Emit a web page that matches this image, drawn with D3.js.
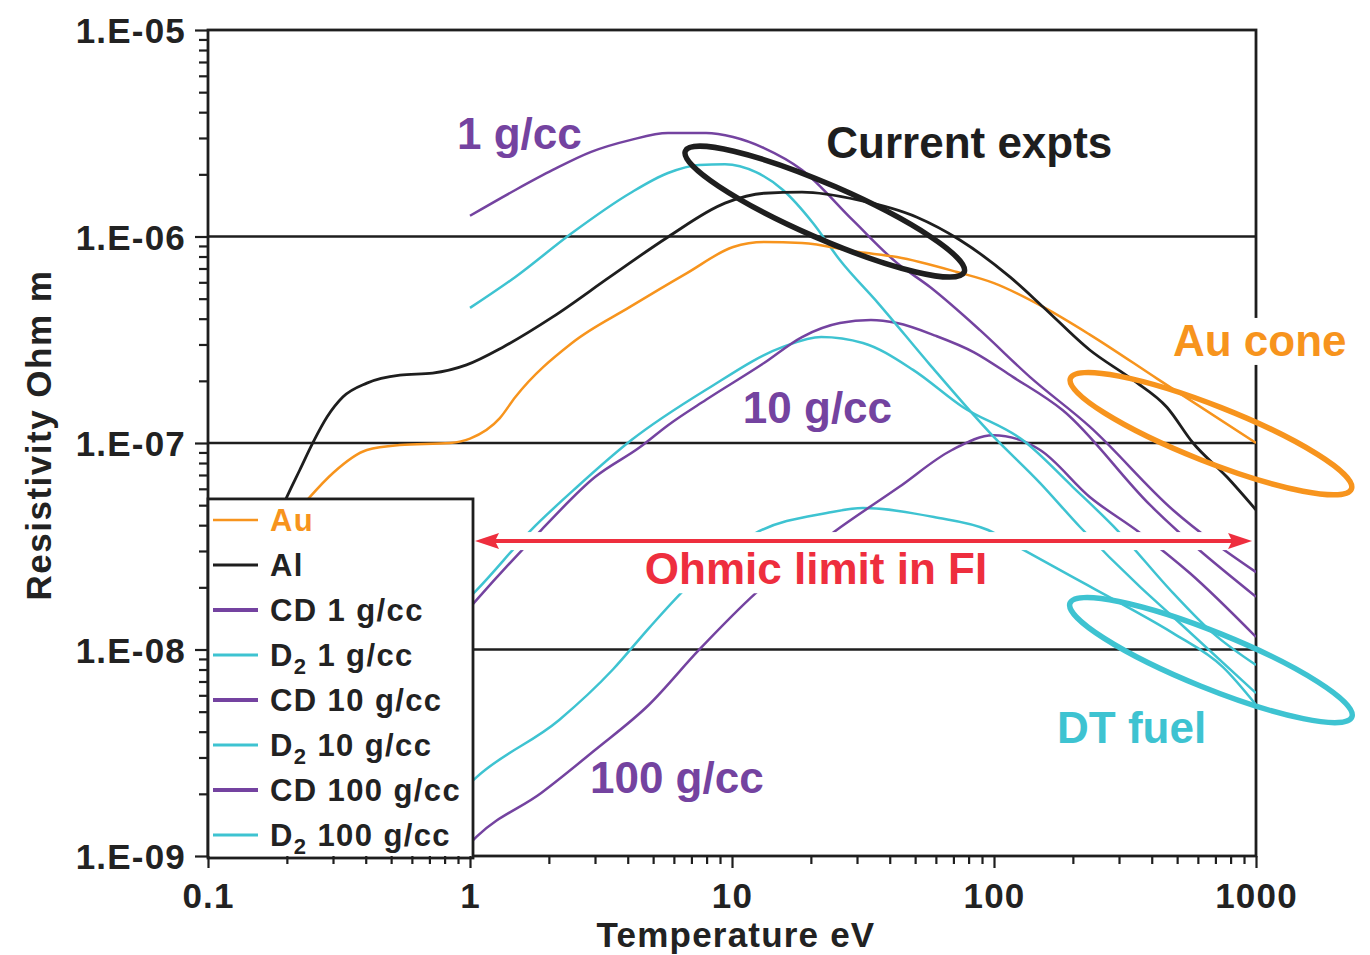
<!DOCTYPE html>
<html><head><meta charset="utf-8">
<script src="https://cdn.jsdelivr.net/npm/d3@7"></script>
<style>
body{margin:0;background:#fff;}
svg{display:block;font-family:"Liberation Sans",Arial,sans-serif;font-weight:bold;}
</style></head><body>
<svg id="chart" width="1370" height="955"></svg>
<script>
// ---------------- data (Temperature eV, Resistivity Ohm m) ----------------
const auT   = [0.2, 0.245, 0.30, 0.404, 0.54, 0.84, 1.0, 1.30, 1.49, 2.45, 4.08, 6.73, 10.1, 13.25, 18.5, 30.5, 42.6, 72.3, 100, 154, 232, 419, 1000];
const auRho = [4.0e-8, 5.48e-8, 7.16e-8, 9.25e-8, 9.77e-8, 1.0e-7, 1.05e-7, 1.32e-7, 1.67e-7, 3.05e-7, 4.56e-7, 6.65e-7, 8.89e-7, 9.40e-7, 9.30e-7, 8.41e-7, 7.96e-7, 6.73e-7, 5.95e-7, 4.56e-7, 3.35e-7, 2.05e-7, 1.0e-7];

const alT   = [0.18, 0.2, 0.224, 0.252, 0.285, 0.327, 0.404, 0.54, 0.72, 0.97, 1.34, 2.07, 3.42, 5.7, 9.4, 13.25, 18.5, 30.5, 50.8, 74.1, 115, 154, 232, 339, 457, 575, 775, 1000];
const alRho = [4.0e-8, 5.48e-8, 7.40e-8, 1.01e-7, 1.34e-7, 1.67e-7, 1.95e-7, 2.13e-7, 2.18e-7, 2.39e-7, 2.92e-7, 4.08e-7, 6.37e-7, 9.95e-7, 1.45e-6, 1.62e-6, 1.64e-6, 1.50e-6, 1.24e-6, 9.62e-7, 6.37e-7, 4.56e-7, 2.82e-7, 2.02e-7, 1.49e-7, 1.0e-7, 6.84e-8, 4.74e-8];

const cd1T   = [1.0, 1.49, 2.07, 2.9, 4.08, 5.7, 7.96, 10.1, 13.25, 18.5, 28.9, 42.6, 57.0, 88.4, 137, 232, 482, 1000];
const cd1Rho = [1.26e-6, 1.68e-6, 2.10e-6, 2.57e-6, 2.93e-6, 3.17e-6, 3.17e-6, 3.03e-6, 2.68e-6, 2.10e-6, 1.20e-6, 7.45e-7, 5.69e-7, 3.52e-7, 2.09e-7, 1.20e-7, 4.74e-8, 2.37e-8];

const d21T   = [1.0, 1.49, 2.45, 4.08, 5.7, 7.48, 9.4, 12.35, 15.65, 20.4, 25.8, 36.1, 57.0, 96.5, 150, 213, 361, 482, 1000];
const d21Rho = [4.51e-7, 6.37e-7, 1.04e-6, 1.62e-6, 2.03e-6, 2.22e-6, 2.24e-6, 2.05e-6, 1.68e-6, 1.16e-6, 7.69e-7, 4.76e-7, 2.39e-7, 1.12e-7, 6.40e-8, 3.92e-8, 2.01e-8, 1.44e-8, 6.15e-9];

const cd10T   = [1.0, 1.06, 1.87, 3.0, 4.46, 5.7, 7.96, 13.25, 18.5, 25.8, 33.9, 42.6, 60.1, 83.9, 118, 183, 394, 1000];
const cd10Rho = [1.6e-8, 1.74e-8, 3.79e-8, 6.84e-8, 9.56e-8, 1.22e-7, 1.62e-7, 2.44e-7, 3.26e-7, 3.81e-7, 3.94e-7, 3.81e-7, 3.30e-7, 2.75e-7, 2.09e-7, 1.44e-7, 5.01e-8, 1.80e-8];

const d210T   = [1.0, 1.06, 1.71, 2.56, 4.12, 7.96, 15.65, 21.9, 31.6, 49.1, 76.2, 129, 200, 295, 482, 685, 1000];
const d210Rho = [1.8e-8, 1.94e-8, 3.79e-8, 6.12e-8, 1.03e-7, 1.81e-7, 2.92e-7, 3.26e-7, 3.05e-7, 2.26e-7, 1.49e-7, 1.03e-7, 6.12e-8, 3.79e-8, 1.88e-8, 1.20e-8, 8.41e-9];

const cd100T   = [1.0, 1.06, 1.87, 3.0, 4.82, 7.48, 12.35, 24.5, 43.4, 69.1, 99.1, 127, 150, 232, 361, 560, 1000];
const cd100Rho = [1.15e-9, 1.24e-9, 2.02e-9, 3.26e-9, 5.4e-9, 9.95e-9, 1.88e-8, 3.71e-8, 6.12e-8, 9.25e-8, 1.09e-7, 1.03e-7, 9.25e-8, 5.48e-8, 3.67e-8, 2.34e-8, 1.15e-8];

const d2100T   = [1.0, 1.06, 2.19, 3.51, 4.82, 6.56, 12.35, 23.0, 31.6, 59.0, 94.9, 126, 200, 322, 482, 748, 1000];
const d2100Rho = [2.25e-9, 2.41e-9, 4.56e-9, 8.0e-9, 1.27e-8, 1.94e-8, 3.67e-8, 4.58e-8, 4.84e-8, 4.38e-8, 3.79e-8, 3.10e-8, 2.24e-8, 1.61e-8, 1.20e-8, 8.22e-9, 5.40e-9];

const legendLabels = ["Au", "Al", "CD 1 g/cc", "D2 1 g/cc", "CD 10 g/cc", "D2 10 g/cc", "CD 100 g/cc", "D2 100 g/cc"];
const xTickValues = [0.1, 1, 10, 100, 1000];
const xTickLabels = ["0.1", "1", "10", "100", "1000"];
const yTickValues = [1e-9, 1e-8, 1e-7, 1e-6, 1e-5];
const yTickLabels = ["1.E-09", "1.E-08", "1.E-07", "1.E-06", "1.E-05"];
const gridValues = [1e-8, 1e-7, 1e-6];
// annotation anchors (data coordinates)
const labelTexts = ["1 g/cc", "Current expts", "Au cone", "10 g/cc", "Ohmic limit in FI", "100 g/cc", "DT fuel"];
const labelT     = [0.892, 22.9, 482, 11.0, 4.65, 2.87, 174];
const labelRho   = [2.65e-6, 2.40e-6, 2.64e-7, 1.25e-7, 2.07e-8, 2.02e-9, 3.52e-9];
const ellipseT   = [22.6, 673, 673];
const ellipseRho = [1.32e-6, 1.11e-7, 8.89e-9];
const arrowT     = [1.045, 966];
const arrowRho   = 3.35e-8;

// ---------------- styles ----------------
const ORANGE = "#F7941D", BLACK = "#1e1e1e", PURPLE = "#7443A0", CYAN = "#3EC3D1", RED = "#EE2E3E";
const seriesColors = [ORANGE, BLACK, PURPLE, CYAN, PURPLE, CYAN, PURPLE, CYAN];
const legendLineW = [2.5, 3, 4, 3, 4, 3, 4, 3];
const labelColors = [PURPLE, BLACK, ORANGE, PURPLE, RED, PURPLE, CYAN];
const ellipseColors = [BLACK, ORANGE, CYAN];
const ellipseRx = [152, 151, 152], ellipseRy = [27, 28, 28], ellipseAng = [23.5, 21.5, 22];

const svg = d3.select("#chart");
const L = 208, R = 1256, T = 30, B = 856;
const x = d3.scaleLog().domain([0.1, 1000]).range([L, R]);
const y = d3.scaleLog().domain([1e-9, 1e-5]).range([B, T]);

const defs = svg.append("defs");
defs.append("clipPath").attr("id", "plotclip").append("rect")
  .attr("x", L).attr("y", T).attr("width", R - L).attr("height", B - T);

// grid lines
svg.append("g").selectAll("line").data(gridValues).join("line")
  .attr("x1", L).attr("x2", R).attr("y1", d => y(d)).attr("y2", d => y(d))
  .attr("stroke", BLACK).attr("stroke-width", 2.6);

// frame
svg.append("rect").attr("x", L).attr("y", T).attr("width", R - L).attr("height", B - T)
  .attr("fill", "none").attr("stroke", BLACK).attr("stroke-width", 2.8);

// curves
const seriesData = [
  d3.zip(auT, auRho), d3.zip(alT, alRho), d3.zip(cd1T, cd1Rho), d3.zip(d21T, d21Rho),
  d3.zip(cd10T, cd10Rho), d3.zip(d210T, d210Rho), d3.zip(cd100T, cd100Rho), d3.zip(d2100T, d2100Rho)
];
const line = d3.line().x(d => x(d[0])).y(d => y(d[1])).curve(d3.curveMonotoneX);
const curveOrder = [7, 6, 5, 4, 3, 2, 0, 1];
svg.append("g").attr("clip-path", "url(#plotclip)").selectAll("path").data(curveOrder).join("path")
  .attr("d", i => line(seriesData[i]))
  .attr("fill", "none").attr("stroke", i => seriesColors[i])
  .attr("stroke-width", i => i === 1 ? 2.8 : 2.5).attr("stroke-linejoin", "round");

// arrow (with white band behind)
const ay = y(arrowRho);
svg.append("rect").attr("x", x(arrowT[0]) + 4).attr("y", ay - 9).attr("width", x(arrowT[1]) - x(arrowT[0]) - 8).attr("height", 18).attr("fill", "#fff");

// labels
const labels = svg.append("g");
labelTexts.forEach((t, i) => {
  const g = labels.append("g");
  const txt = g.append("text").attr("x", x(labelT[i])).attr("y", y(labelRho[i]))
    .attr("font-size", 44).attr("fill", labelColors[i]).text(t);
  if (t === "Ohmic limit in FI" || t === "Au cone") {
    const bb = txt.node().getBBox();
    g.insert("rect", "text").attr("x", bb.x - 4).attr("y", bb.y + 2).attr("width", bb.width + 8).attr("height", bb.height - 2).attr("fill", "#fff");
  }
});

const ax1 = x(arrowT[0]), ax2 = x(arrowT[1]);
svg.append("line").attr("x1", ax1 + 18).attr("x2", ax2 - 18).attr("y1", ay).attr("y2", ay)
  .attr("stroke", RED).attr("stroke-width", 4);
svg.append("path").attr("d", `M${ax1},${ay} L${ax1 + 24},${ay - 8} L${ax1 + 20},${ay} L${ax1 + 24},${ay + 8} Z`).attr("fill", RED);
svg.append("path").attr("d", `M${ax2},${ay} L${ax2 - 24},${ay - 8} L${ax2 - 20},${ay} L${ax2 - 24},${ay + 8} Z`).attr("fill", RED);

// ellipses
svg.append("g").selectAll("ellipse").data(ellipseT).join("ellipse")
  .attr("transform", (d, i) => `translate(${x(d)},${y(ellipseRho[i])}) rotate(${ellipseAng[i]})`)
  .attr("rx", (d, i) => ellipseRx[i]).attr("ry", (d, i) => ellipseRy[i])
  .attr("fill", "none").attr("stroke", (d, i) => ellipseColors[i]).attr("stroke-width", 5.5);

// legend
const lg = svg.append("g");
const lgX = L, lgY = y(5.36e-8), lgW = 265, lgRowH = 45;
lg.append("rect").attr("x", lgX).attr("y", lgY).attr("width", lgW).attr("height", B - lgY + 2)
  .attr("fill", "#fff").attr("stroke", BLACK).attr("stroke-width", 2.8);
legendLabels.forEach((lab, i) => {
  const cy = lgY + 21 + i * lgRowH;
  lg.append("line").attr("x1", lgX + 5).attr("x2", lgX + 50).attr("y1", cy).attr("y2", cy)
    .attr("stroke", seriesColors[i]).attr("stroke-width", legendLineW[i]);
  const t = lg.append("text").attr("x", lgX + 62).attr("y", cy + 11).attr("font-size", 31)
    .attr("letter-spacing", 1.4).attr("fill", i === 0 ? ORANGE : "#222");
  if (lab.startsWith("D2")) {
    t.append("tspan").text("D");
    t.append("tspan").attr("font-size", 22).attr("dy", 8).text("2");
    t.append("tspan").attr("dy", -8).text(lab.slice(2));
  } else t.text(lab);
});

// axes
const minorX = [];
[0.1, 1, 10, 100].forEach(d => { for (let k = 2; k <= 9; k++) minorX.push(d * k); });
const minorY = [];
[1e-9, 1e-8, 1e-7, 1e-6].forEach(d => { for (let k = 2; k <= 9; k++) minorY.push(d * k); });

const xMinor = svg.append("g").attr("transform", `translate(0,${B})`)
  .call(d3.axisBottom(x).tickValues(minorX).tickSize(8).tickFormat(""));
const xMajor = svg.append("g").attr("transform", `translate(0,${B})`)
  .call(d3.axisBottom(x).tickValues(xTickValues).tickSize(12).tickFormat((d, i) => xTickLabels[i]));
const yMinor = svg.append("g").attr("transform", `translate(${L},0)`)
  .call(d3.axisLeft(y).tickValues(minorY).tickSize(9).tickFormat(""));
const yMajor = svg.append("g").attr("transform", `translate(${L},0)`)
  .call(d3.axisLeft(y).tickValues(yTickValues).tickSize(13).tickPadding(9).tickFormat((d, i) => yTickLabels[i]));
[xMinor, xMajor, yMinor, yMajor].forEach(g => {
  g.select(".domain").remove();
  g.selectAll(".tick line").attr("stroke", BLACK).attr("stroke-width", 2.2);
  g.selectAll("text").attr("font-family", "Liberation Sans, Arial, sans-serif").attr("font-weight", "bold")
    .attr("font-size", 35).attr("letter-spacing", 1.2).attr("fill", "#222");
});
xMajor.selectAll("text").attr("y", 52).attr("dy", 0);
yMajor.selectAll("text").attr("dy", "0.36em");

// axis titles
svg.append("text").attr("x", 736).attr("y", 947).attr("text-anchor", "middle")
  .attr("font-size", 35).attr("letter-spacing", 1.2).attr("fill", "#222").text("Temperature eV");
svg.append("text").attr("transform", `translate(51,${435}) rotate(-90)`).attr("text-anchor", "middle")
  .attr("font-size", 35).attr("letter-spacing", 1.5).attr("fill", "#222").text("Resistivity Ohm m");
</script>
</body></html>
